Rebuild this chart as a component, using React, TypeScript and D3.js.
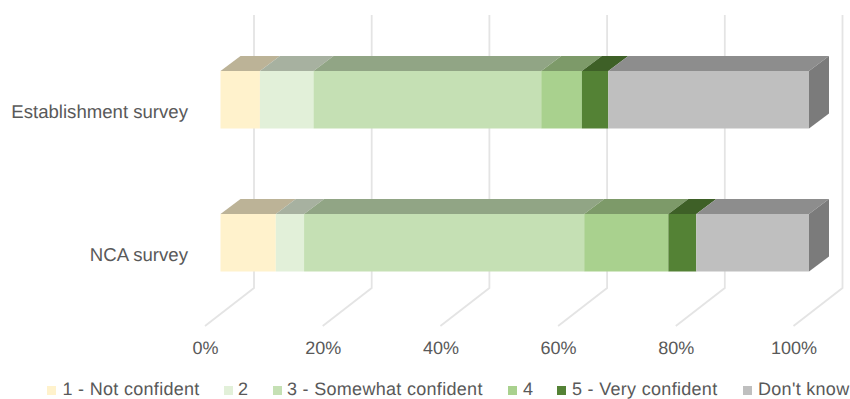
import React from "react";
import * as d3 from "d3";

// Survey responses, as percentage shares of each row
const rows = ["Establishment survey", "NCA survey"];
const responses = ["1 - Not confident", "2", "3 - Somewhat confident", "4", "5 - Very confident", "Don't know"];
const establishmentShares = [6.7, 9.1, 38.7, 6.9, 4.5, 34.1];
const ncaShares = [9.4, 4.8, 47.6, 14.3, 4.75, 19.15];
const sharesByRow = [establishmentShares, ncaShares];
const axisTicks = [0, 20, 40, 60, 80, 100];

const fills = ["#FFF2CC", "#E2F0D9", "#C5E0B4", "#A9D18E", "#548235", "#BFBFBF"];
const legendSwatchX = [47, 224, 273, 508, 557, 743];
const legendTextX = [62.5, 238, 287, 523, 572, 758];

const WIDTH = 850;
const HEIGHT = 399;
const FONT = "'Liberation Sans', Arial, sans-serif";
const TEXT = "#595959";
const GRID = "#E4E4E4";

// Oblique projection offsets of the bar depth
const DEPTH_X = 20;
const DEPTH_Y = -15;

export default function App() {
  const x = d3.scaleLinear().domain([0, 100]).range([220.5, 809]);
  const barTop = (row: string) => (row === rows[0] ? 71 : 214);
  const barHeight = 57.5;

  return (
    <svg
      width={WIDTH}
      height={HEIGHT}
      style={{ position: "absolute", left: 0, top: 0, background: "#fff" }}
      fontFamily={FONT}
      textRendering="geometricPrecision"
    >
      {axisTicks.map((t) => (
        <g key={t}>
          <polyline
            points={`${x(t) + 33.5},15 ${x(t) + 33.5},288 ${x(t) - 15.5},326`}
            fill="none"
            stroke={GRID}
            strokeWidth={1.8}
          />
          <text x={x(t) - 15} y={353.5} textAnchor="middle" fontSize={18} fill={TEXT}>
            {t}%
          </text>
        </g>
      ))}

      {rows.map((row, ri) => {
        const top = barTop(row);
        const stacked = d3.cumsum(sharesByRow[ri]);
        const starts = [0, ...stacked];
        return (
          <g key={row}>
            <text x={188} y={top + 46.5} textAnchor="end" fontSize={18.6} fill={TEXT}>
              {row}
            </text>
            {sharesByRow[ri].map((_, si) => {
              const x0 = x(starts[si]);
              const x1 = x(stacked[si]);
              const topFace = d3.color(fills[si])!.darker(0.85).formatHex();
              return (
                <g key={si}>
                  <path
                    d={`M${x0},${top}L${x0 + DEPTH_X},${top + DEPTH_Y}L${x1 + DEPTH_X},${top + DEPTH_Y}L${x1},${top}Z`}
                    fill={topFace}
                  />
                  <rect x={x0} y={top} width={x1 - x0} height={barHeight} fill={fills[si]} />
                </g>
              );
            })}
            <path
              d={`M${x(100)},${top}L${x(100) + DEPTH_X},${top + DEPTH_Y}L${x(100) + DEPTH_X},${top + DEPTH_Y + barHeight}L${x(100)},${top + barHeight}Z`}
              fill="#7B7B7B"
            />
          </g>
        );
      })}

      {responses.map((r, i) => (
        <g key={r}>
          <rect x={legendSwatchX[i]} y={386} width={9} height={9} fill={fills[i]} />
          <text x={legendTextX[i]} y={395} fontSize={18} letterSpacing={0.3} fill={TEXT}>
            {r}
          </text>
        </g>
      ))}
    </svg>
  );
}
